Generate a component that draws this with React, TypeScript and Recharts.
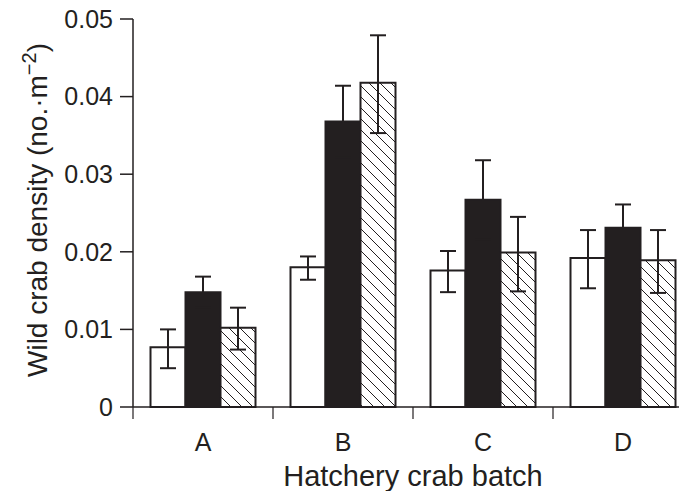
import { BarChart, Bar, XAxis, YAxis, ErrorBar, Label } from "recharts";

const batches = ["A", "B", "C", "D"];

// means
const whiteMean = [0.0077, 0.018, 0.0176, 0.0192];
const blackMean = [0.0148, 0.0368, 0.0267, 0.0231];
const hatchMean = [0.0102, 0.0418, 0.0199, 0.0189];

// upper / lower ends of the error bars
const whiteHi = [0.01, 0.0194, 0.0201, 0.0228];
const whiteLo = [0.005, 0.0164, 0.0148, 0.0153];
const blackHi = [0.0168, 0.0414, 0.0318, 0.0261];
const blackLo = [0.0128, 0.0322, 0.0216, 0.0201];
const hatchHi = [0.0128, 0.0479, 0.0245, 0.0228];
const hatchLo = [0.0074, 0.0353, 0.0149, 0.0147];

const yTicks = [0, 0.01, 0.02, 0.03, 0.04, 0.05];

const data = batches.map((b, i) => ({
  batch: b,
  white: whiteMean[i],
  black: blackMean[i],
  hatch: hatchMean[i],
  whiteErr: [whiteMean[i] - whiteLo[i], whiteHi[i] - whiteMean[i]],
  blackErr: [blackMean[i] - blackLo[i], blackHi[i] - blackMean[i]],
  hatchErr: [hatchMean[i] - hatchLo[i], hatchHi[i] - hatchMean[i]],
}));

const INK = "#231f20";
const FONT = "'Liberation Sans', Arial, sans-serif";
const TICK_SIZE = 12;
const TICK_MARGIN = 8;

const BatchTick = (props: any) => {
  const { x, y, payload } = props;
  const axisY = y - TICK_SIZE - TICK_MARGIN;
  const left = x - (payload.offset || 0);
  return (
    <g>
      <line x1={left} y1={axisY} x2={left} y2={axisY + TICK_SIZE} stroke={INK} strokeWidth={1.2} />
      <text x={x} y={axisY + 44} textAnchor="middle" fill={INK} fontSize={25} fontFamily={FONT}>
        {payload.value}
      </text>
    </g>
  );
};

const XTitle = (props: any) => {
  const vb = props.viewBox;
  return (
    <text x={vb.x + vb.width / 2} y={486} textAnchor="middle" fill={INK} fontSize={29} fontFamily={FONT}>
      Hatchery crab batch
    </text>
  );
};

const YLabel = (props: any) => {
  const vb = props.viewBox;
  const cx = 47;
  const cy = vb.y + vb.height / 2 - 3;
  return (
    <text
      x={cx}
      y={cy}
      transform={`rotate(-90, ${cx}, ${cy})`}
      textAnchor="middle"
      fill={INK}
      fontSize={28}
      fontFamily={FONT}
    >
      Wild crab density (no.·m
      <tspan dy={-11} fontSize={20}>−2</tspan>
      <tspan dy={11}>)</tspan>
    </text>
  );
};

export default function App() {
  return (
    <div
      style={{
        position: "fixed",
        left: 0,
        top: 0,
        width: 679,
        height: 491,
        overflow: "hidden",
        background: "#fff",
      }}
    >
      <BarChart
        width={700}
        height={491}
        data={data}
        margin={{ top: 19, right: 7, left: 0, bottom: 0 }}
        barCategoryGap="12.5%"
        barGap={0}
      >
        <defs>
          <pattern id="hatch" patternUnits="userSpaceOnUse" width={11} height={11}>
            <rect width={11} height={11} fill="#fff" />
            <line x1={-1} y1={-1} x2={12} y2={12} stroke={INK} strokeWidth={1} />
            <line x1={-6} y1={5} x2={1} y2={12} stroke={INK} strokeWidth={1} />
            <line x1={5} y1={-6} x2={12} y2={1} stroke={INK} strokeWidth={1} />
          </pattern>
        </defs>
        <XAxis
          dataKey="batch"
          height={84}
          stroke={INK}
          strokeWidth={1.5}
          tickLine={false}
          tickSize={TICK_SIZE}
          tickMargin={TICK_MARGIN}
          tick={<BatchTick />}
          interval={0}
        >
          <Label content={<XTitle />} />
        </XAxis>
        <YAxis
          width={133}
          domain={[0, 0.05]}
          ticks={yTicks}
          interval={0}
          stroke={INK}
          strokeWidth={1.5}
          tickSize={13}
          tickMargin={7}
          tickFormatter={(v: number) => (v === 0 ? "0" : v.toFixed(2))}
          tick={{ fill: INK, fontSize: 25, fontFamily: FONT }}
          label={<YLabel />}
        />
        <Bar dataKey="white" fill="#fff" stroke={INK} strokeWidth={2} isAnimationActive={false}>
          <ErrorBar dataKey="whiteErr" width={8} stroke={INK} strokeWidth={2} direction="y" />
        </Bar>
        <Bar dataKey="black" fill={INK} stroke={INK} strokeWidth={2} isAnimationActive={false}>
          <ErrorBar dataKey="blackErr" width={8} stroke={INK} strokeWidth={2} direction="y" />
        </Bar>
        <Bar dataKey="hatch" fill="url(#hatch)" stroke={INK} strokeWidth={2} isAnimationActive={false}>
          <ErrorBar dataKey="hatchErr" width={8} stroke={INK} strokeWidth={2} direction="y" />
        </Bar>
      </BarChart>
    </div>
  );
}
